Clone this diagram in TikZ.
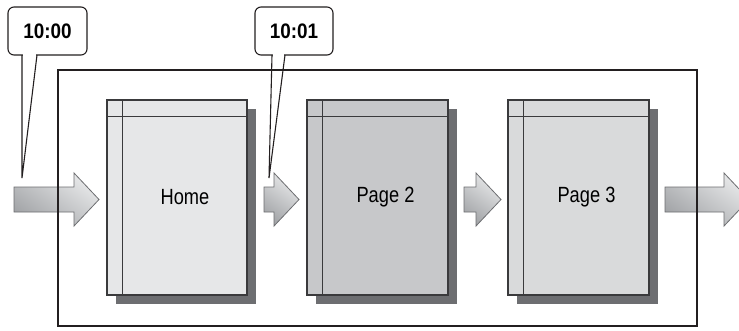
\documentclass[tikz,border=0pt]{standalone}
\usepackage{fontspec}
\setmainfont[FakeStretch=0.83]{Liberation Sans}
\newfontfamily\calfont[FakeStretch=0.9]{Liberation Sans}
\usetikzlibrary{shadows}
\definecolor{pageA}{HTML}{E6E7E8}
\definecolor{pageB}{HTML}{C7C8CA}
\definecolor{pageC}{HTML}{D9DADB}
\definecolor{shadowc}{HTML}{6D6E71}
\definecolor{edgec}{HTML}{3A3A3C}
\definecolor{framec}{HTML}{231F20}
\definecolor{arrdark}{HTML}{A2A4A7}
\definecolor{arrlight}{HTML}{E8E9EA}
\definecolor{arredge}{HTML}{6D6E71}
\newcommand\grayarrow[2]{\draw[flowarrow] (#1,187) -- ({#2-25},187) -- ({#2-25},173) -- (#2,199.5) -- ({#2-25},226) -- ({#2-25},212) -- (#1,212) -- cycle;}
\tikzset{
  flowarrow/.style={draw=arredge, line width=0.8pt, top color=arrlight, bottom color=arrdark, shading angle=-35},
  pagebox/.style={draw=edgec, line width=1.1pt, inner sep=0pt, minimum width=140pt, minimum height=195pt,
     general shadow={fill=shadowc, shadow xshift=8.5pt, shadow yshift=-8.5pt},
     font=\fontsize{22}{22}\selectfont},
  stripline/.style={draw=edgec, line width=1.1pt},
  framebox/.style={draw=framec, line width=2pt, inner sep=0pt},
  callout/.style={draw=framec, line width=1.1pt, fill=white, rounded corners=6pt, inner sep=0pt,
     minimum height=48pt, font=\calfont\bfseries\fontsize{21}{21}\selectfont},
  tailline/.style={draw=framec, line width=1.1pt, line join=miter}
}
\begin{document}
\begin{tikzpicture}[x=1pt,y=-1pt]
\clip (0,0) rectangle (739,330);
\fill[white] (0,0) rectangle (739,330);
% flow arrows
\grayarrow{14}{99}
\grayarrow{264}{299}
\grayarrow{464}{501}
\grayarrow{665}{749}
% frame
\node[framebox, minimum width=639pt, minimum height=256pt] (frame) at (377.5,198) {};
% pages
\node[pagebox, fill=pageA] (home) at (177,197.5) {\hspace*{16pt}Home};
\node[pagebox, fill=pageB, minimum width=141pt] (page2) at (377.5,197.5) {\hspace*{16pt}Page 2};
\node[pagebox, fill=pageC, minimum width=141pt] (page3) at (578.5,197.5) {\hspace*{16pt}Page 3};
\foreach \p in {home,page2,page3}{
  \draw[stripline] ([xshift=16pt]\p.north west) -- ([xshift=16pt]\p.south west);
  \draw[stripline] ([yshift=-17pt]\p.north west) -- ([yshift=-17pt]\p.north east);
}
% callouts
\node[callout, minimum width=79pt] (c1) at (47.5,31) {10:00};
\node[callout, minimum width=78pt] (c2) at (294,31) {10:01};
\coordinate (t1) at (22,178);
\coordinate (t2) at (269,178);
\draw[white, line width=1.6pt] (22.6,55) -- (36.4,55);
\draw[white, line width=1.6pt] (272.6,55) -- (284.4,55);
\draw[tailline] (22,55) -- (t1) -- (37,55);
\draw[tailline] (272,55) -- (t2) -- (285,55);
\end{tikzpicture}
\end{document}
